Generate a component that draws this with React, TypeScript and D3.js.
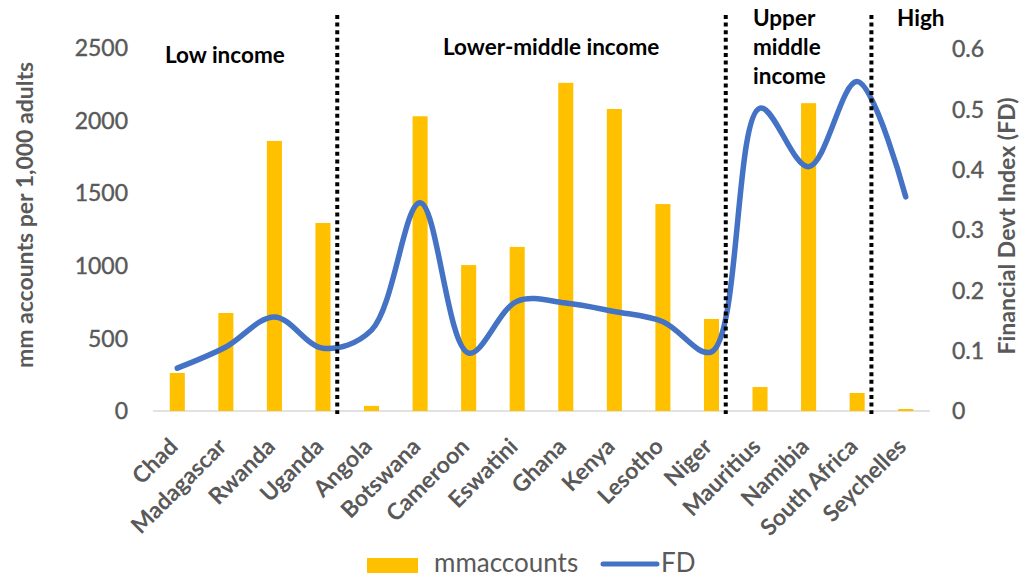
import React from "react";
import * as d3 from "d3";

const categories = ["Chad","Madagascar","Rwanda","Uganda","Angola","Botswana","Cameroon","Eswatini","Ghana","Kenya","Lesotho","Niger","Mauritius","Namibia","South Africa","Seychelles"];
const mmaccounts = [262,675,1860,1295,35,2030,1005,1130,2260,2080,1425,634,165,2120,124,14];
const fd = [0.071,0.106,0.156,0.104,0.134,0.345,0.096,0.182,0.179,0.165,0.148,0.098,0.502,0.405,0.546,0.355];
const leftTicks = [0,500,1000,1500,2000,2500];
const rightTicks = [0,0.1,0.2,0.3,0.4,0.5,0.6];
const dividersAfter = ["Uganda","Niger","South Africa"];
const seriesNames = ["mmaccounts","FD"];
const leftTitle = "mm accounts per 1,000 adults";
const rightTitle = "Financial Devt Index (FD)";

const W = 1023, H = 579;
const FONT = "Lato, 'Open Sans', sans-serif";
const GRAY = "#595959";
const BAR = "#FFC000";
const LINE = "#4472C4";

export default function App() {
  const x = d3.scaleBand<string>().domain(categories).range([153, 930]).padding(0);
  const yL = d3.scaleLinear().domain([0, 2500]).range([411, 48]);
  const yR = d3.scaleLinear().domain([0, 0.6]).range([411, 49]);
  const cx = (c: string) => (x(c) as number) + x.bandwidth() / 2;
  const barW = x.bandwidth() * 0.31;
  const line = d3.line<number>()
    .x((_, i) => cx(categories[i]))
    .y((d) => yR(d))
    .curve(d3.curveCatmullRom.alpha(0.5));
  const fmtR = (v: number) => (v === 0 ? "0" : d3.format(".1f")(v));

  return (
    <svg width={W} height={H} style={{ position: "absolute", left: 0, top: 0, background: "#fff" }} fontFamily={FONT}>
      <rect width={W} height={H} fill="#fff" />
      <line x1={153} x2={930} y1={yL(0)} y2={yL(0)} stroke="#D9D9D9" strokeWidth={1.5} />
      {categories.map((c, i) => (
        <rect key={c} x={cx(c) - barW / 2} width={barW} y={yL(mmaccounts[i])} height={yL(0) - yL(mmaccounts[i])} fill={BAR} />
      ))}
      <path d={line(fd) || ""} fill="none" stroke={LINE} strokeWidth={5.5} strokeLinecap="round" strokeLinejoin="round" />
      {dividersAfter.map((c) => {
        const xx = (x(c) as number) + x.bandwidth() - 10;
        return <line key={c} x1={xx} x2={xx} y1={15} y2={414} stroke="#000" strokeWidth={4} strokeDasharray="4 3.6" />;
      })}
      {leftTicks.map((t) => (
        <text key={t} x={128} y={yL(t)} dy="0.36em" textAnchor="end" fontSize={23} fill={GRAY} stroke={GRAY} strokeWidth={0.4}>{t}</text>
      ))}
      {rightTicks.map((t) => (
        <text key={t} x={952} y={yR(t)} dy="0.36em" textAnchor="start" fontSize={23} fill={GRAY} stroke={GRAY} strokeWidth={0.4}>{fmtR(t)}</text>
      ))}
      <text transform={`translate(33,215) rotate(-90)`} textAnchor="middle" fontSize={23} fontWeight="bold" fill={GRAY}>{leftTitle}</text>
      <text transform={`translate(1015,226) rotate(-90)`} textAnchor="middle" fontSize={23} fontWeight="bold" fill={GRAY}>{rightTitle}</text>
      {categories.map((c) => (
        <text key={c} transform={`translate(${cx(c) + 2},${448}) rotate(-45)`} textAnchor="end" fontSize={23} fontWeight="bold" fill={GRAY}>{c}</text>
      ))}
      <g fontSize={22.5} fontWeight="bold" fill="#000">
        <text x={165} y={63}>Low income</text>
        <text x={443} y={55}>Lower-middle income</text>
        <text x={753} y={26}>Upper</text>
        <text x={753} y={55}>middle</text>
        <text x={753} y={84}>income</text>
        <text x={897} y={26}>High</text>
      </g>
      <rect x={367} y={558} width={51} height={15} fill={BAR} />
      <text x={434} y={572} fontSize={26} fill={GRAY}>{seriesNames[0]}</text>
      <line x1={603} x2={657} y1={564} y2={564} stroke={LINE} strokeWidth={5} strokeLinecap="round" />
      <text x={661} y={572} fontSize={26} fill={GRAY}>{seriesNames[1]}</text>
    </svg>
  );
}
